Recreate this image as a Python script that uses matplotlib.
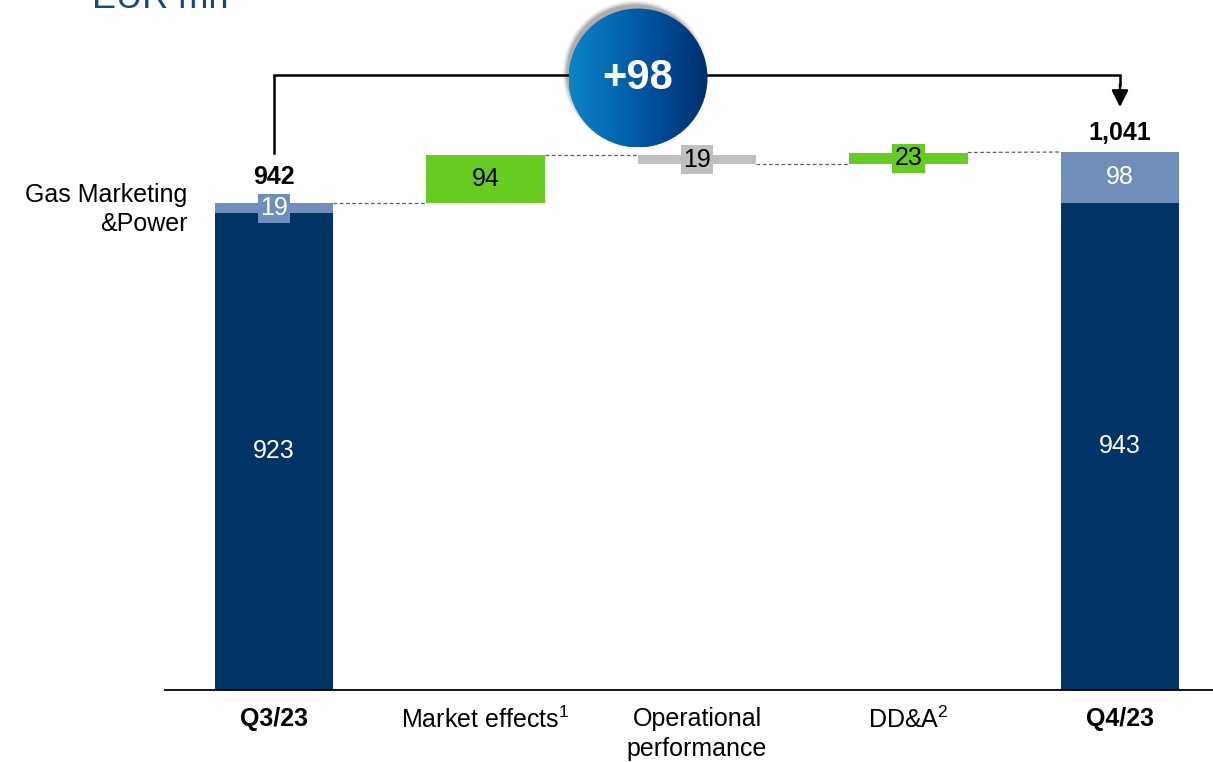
import numpy as np
import matplotlib
matplotlib.use("Agg")
import matplotlib.pyplot as plt
from matplotlib.patches import Circle
from matplotlib.colors import LinearSegmentedColormap

plt.rcParams['font.family'] = ['Liberation Sans', 'DejaVu Sans']
plt.rcParams['mathtext.fontset'] = 'custom'
plt.rcParams['mathtext.rm'] = 'Liberation Sans'
plt.rcParams['mathtext.it'] = 'Liberation Sans'

# EBITDA bridge, EUR mn
categories = ["Q3/23", "Market effects$^{1}$", "Operational\nperformance", "DD&A$^{2}$", "Q4/23"]
base_q3 = 923
gmp_q3 = 19
total_q3 = 942
deltas = [94, -19, 23]
base_q4 = 943
gmp_q4 = 98
total_q4 = 1041
change_label = "+98"

NAVY = "#003366"
LIGHT = "#6f8fba"
GREEN = "#66cc22"
GREY = "#bfbfbf"
FS = 18

W, H = 1213, 762
fig = plt.figure(figsize=(W / 100, H / 100), dpi=100)

# main axes: baseline at y=690px, ~0.517 px per EUR mn
ax = fig.add_axes([165 / W, (H - 690) / H, (W - 165) / W, 690 / H])
ax.set_xlim((165 - 274) / 211.5, (W - 274) / 211.5)
ax.set_ylim(0, 690 / 0.5168)
bw = 0.56
x = np.arange(len(categories))

# start and end columns
ax.bar(x[0], base_q3, bw, color=NAVY, zorder=2)
ax.bar(x[0], gmp_q3, bw, bottom=base_q3, color=LIGHT, zorder=2)
ax.bar(x[4], base_q4, bw, color=NAVY, zorder=2)
ax.bar(x[4], gmp_q4, bw, bottom=base_q4, color=LIGHT, zorder=2)

ax.text(x[0], base_q3 / 2, f"{base_q3}", ha='center', va='center', color='white', fontsize=FS)
ax.text(x[4], base_q4 / 2, f"{base_q4}", ha='center', va='center', color='white', fontsize=FS)
ax.text(x[0], base_q3 + gmp_q3 / 2, f"{gmp_q3}", ha='center', va='center', color='white', fontsize=FS,
        zorder=4, bbox=dict(boxstyle='square,pad=0.1', fc=LIGHT, ec='none'))
ax.text(x[4], base_q4 + gmp_q4 / 2, f"{gmp_q4}", ha='center', va='center', color='white', fontsize=FS, zorder=4)
ax.text(x[0], total_q3 + 50, f"{total_q3}", ha='center', va='center', fontsize=FS, fontweight='bold')
ax.text(x[4], total_q4 + 36, f"{total_q4:,}", ha='center', va='center', fontsize=FS, fontweight='bold')

# floating deltas
level = total_q3
prev_top = total_q3
prev_x = x[0]
for i, d in enumerate(deltas, start=1):
    col = GREEN if d > 0 else GREY
    lo, hi = (level, level + d) if d > 0 else (level + d, level)
    ax.plot([prev_x + bw / 2, x[i] - bw / 2], [prev_top, prev_top], color='#606060',
            lw=0.9, ls=(0, (3, 2)), zorder=1)
    ax.bar(x[i], hi - lo, bw, bottom=lo, color=col, zorder=2)
    ax.text(x[i], (lo + hi) / 2, f"{abs(d)}", ha='center', va='center', fontsize=FS, zorder=4,
            bbox=dict(boxstyle='square,pad=0.1', fc=col, ec='none'))
    level += d
    prev_top = level
    prev_x = x[i]
ax.plot([prev_x + bw / 2, x[4] - bw / 2], [prev_top, total_q4], color='#606060',
        lw=0.9, ls=(0, (3, 2)), zorder=1)

ax.text(-0.41, 930, "Gas Marketing\n&Power", ha='right', va='center', fontsize=FS,
        linespacing=1.3, clip_on=False)

ax.set_xticks(x)
ax.set_xticklabels(categories, fontsize=FS, va='top', linespacing=1.35)
for lbl in (ax.get_xticklabels()[0], ax.get_xticklabels()[4]):
    lbl.set_fontweight('bold')
ax.tick_params(axis='x', length=0, pad=12)
ax.set_yticks([])
for s in ('top', 'right', 'left'):
    ax.spines[s].set_visible(False)
ax.spines['bottom'].set_linewidth(1.3)
ax.patch.set_alpha(0)

# bracket from Q3 to Q4
bracket_y = 1190
ax.plot([x[0], x[0], x[4], x[4]], [total_q3 + 97, bracket_y, bracket_y, bracket_y - 20],
        color='black', lw=1.8, clip_on=False, solid_joinstyle='miter')
ax.annotate('', xy=(x[4], total_q4 + 87), xytext=(x[4], bracket_y - 18),
            arrowprops=dict(arrowstyle='-|>,head_length=1.0,head_width=0.5', lw=1.8, color='black',
                            shrinkA=0, shrinkB=0), annotation_clip=False)

# overlay in pixel coordinates for the badge and the unit title
ov = fig.add_axes([0, 0, 1, 1])
ov.set_xlim(0, W)
ov.set_ylim(H, 0)
ov.axis('off')
ov.patch.set_alpha(0)

cx, cy, r = 638, 78, 69.5
# soft shadow falling to the upper left
for k, a in enumerate([0.04, 0.05, 0.07, 0.09, 0.11]):
    ov.add_patch(Circle((cx - 3, cy - 5), r + 3 - 1.0 * k, fc='black', ec='none', alpha=a, zorder=3))
grad = np.linspace(0, 1, 256).reshape(1, -1)
cmap = LinearSegmentedColormap.from_list('badge', ['#0a84c8', '#0568b2', '#004a96', '#002f6c'])
disc = Circle((cx, cy), r, fc='none', ec='none', zorder=4)
ov.add_patch(disc)
img = ov.imshow(grad, cmap=cmap, extent=[cx - r, cx + r, cy + r, cy - r], aspect='auto', zorder=4)
img.set_clip_path(disc)
ov.text(cx, cy, change_label, ha='center', va='center', color='white', fontsize=30,
        fontweight='bold', zorder=5)

ov.text(92, 8, "EUR mn", ha='left', va='baseline', color='#0e4a8a', fontsize=26, zorder=5)

fig.savefig("out.png", dpi=100)
